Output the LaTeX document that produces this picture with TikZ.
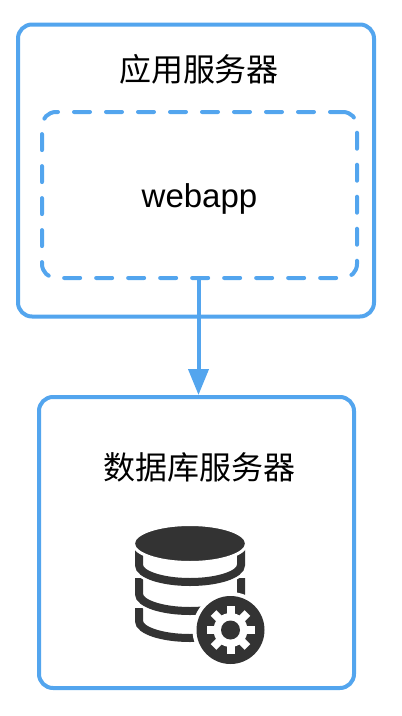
\documentclass[tikz,border=0pt]{standalone}
\usepackage{fontspec}
\setmainfont{Liberation Sans}
\newfontfamily\cjk{Noto Sans CJK SC}
\usetikzlibrary{calc,arrows.meta}
\definecolor{boxblue}{HTML}{53A5EE}
\definecolor{icondark}{HTML}{333333}

\begin{document}
\begin{tikzpicture}[>=Latex,x=1pt,y=-1pt,
  serverbox/.style={draw=boxblue,line width=4pt,rounded corners=14pt,inner sep=0pt},
  appdash/.style={serverbox,line cap=round,dash pattern=on 16pt off 16pt,dash phase=3pt},
  title/.style={font=\fontsize{32}{36}\selectfont\cjk,inner sep=0pt},
  band/.style={draw=icondark,line width=8pt,fill=white},
  gap/.style={draw=white,line width=13pt,fill=white}]
  \useasboundingbox (0,0) rectangle (402,716);
  % Boxes
  \node[serverbox,minimum width=356pt,minimum height=292pt] (appbox) at (196,170.5) {};
  \node[appdash,minimum width=315pt,minimum height=166pt] (webappbox) at (199.5,195) {};
  \node[serverbox,minimum width=315pt,minimum height=291pt] (dbbox) at (196.5,542.5) {};
  % Labels
  \node[title] (apptitle) at (199,69.5) {应用服务器};
  \node[font=\fontsize{33}{36}\selectfont,inner sep=0pt] (webapptitle) at (199.5,199) {webapp};
  \node[title] (dbtitle) at (199.5,467) {数据库服务器};
  % Arrow between the boxes
  \draw[->,draw=boxblue,line width=4pt,-{Triangle[length=26pt,width=20pt]}]
    ([xshift=-1pt]webappbox.south) -- ([xshift=-1pt]webappbox.south |- dbbox.north);
  % Database bands, lowest first
  \draw[gap] (139,608) -- (139,621) arc[start angle=180,end angle=360,x radius=51,y radius=-17] -- (241,608);
  \draw[band] (139,608) -- (139,621) arc[start angle=180,end angle=360,x radius=51,y radius=-17] -- (241,608);
  \draw[gap] (139,578) -- (139,594) arc[start angle=180,end angle=360,x radius=51,y radius=-17] -- (241,578);
  \draw[band] (139,578) -- (139,594) arc[start angle=180,end angle=360,x radius=51,y radius=-17] -- (241,578);
  \draw[gap] (139,545) -- (139,565) arc[start angle=180,end angle=360,x radius=51,y radius=-17] -- (241,545);
  \draw[band] (139,545) -- (139,565) arc[start angle=180,end angle=360,x radius=51,y radius=-17] -- (241,545);
  % Database lid
  \draw[icondark,fill=icondark,draw=white,line width=3pt] (190,543.5) ellipse[x radius=56.5,y radius=19];
  % Gear badge
  \fill[white] (230.5,630) circle (38);
  \fill[icondark] (230.5,630) circle (34);
  \foreach \a in {0,45,...,315}
    \fill[white,rotate around={\a:(230.5,630)}] (226.5,606) rectangle (234.5,620);
  \fill[white] (230.5,630) circle (17);
  \fill[icondark] (230.5,630) circle (9.5);
\end{tikzpicture}
\end{document}
